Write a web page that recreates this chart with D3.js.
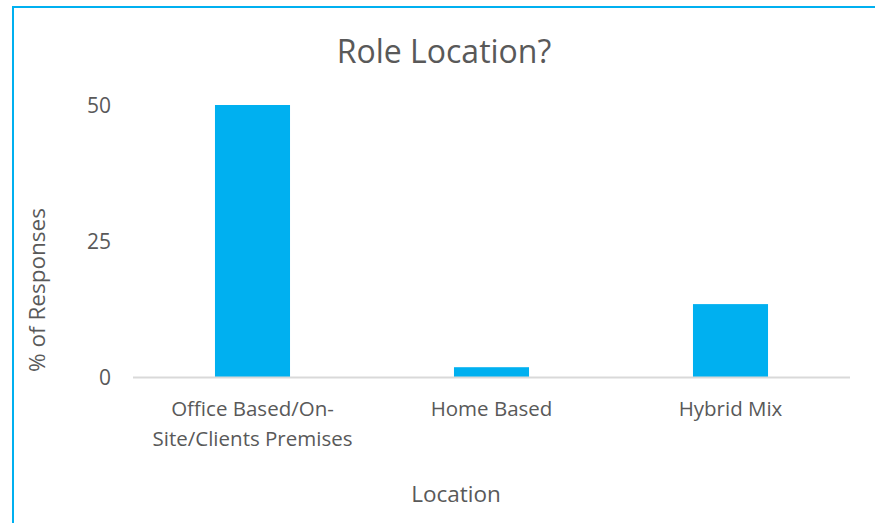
<!DOCTYPE html>
<html>
<head>
<meta charset="utf-8">
<script src="https://cdn.jsdelivr.net/npm/d3@7"></script>
<style>
  body { margin: 0; background: #fff; }
  text { font-family: "Open Sans", Lato, sans-serif; fill: #595959; }
</style>
</head>
<body>
<div id="chart"></div>
<script>
const categories = [['Office Based/On-', 'Site/Clients Premises'], ['Home Based'], ['Hybrid Mix']];
const values = [50, 1.8, 13.4];
const yTicks = [0, 25, 50];

const width = 875, height = 523;
const margin = { top: 105, right: 25, bottom: 146, left: 133 };

const svg = d3.select('#chart').append('svg')
  .attr('width', width)
  .attr('height', height);

// chart border (right/bottom edges fall outside the crop)
svg.append('rect')
  .attr('x', 13).attr('y', 7)
  .attr('width', 880).attr('height', 540)
  .attr('fill', 'none')
  .attr('stroke', '#00b0f0')
  .attr('stroke-width', 2);

const contentWidth = width - margin.left - margin.right;
const contentHeight = height - margin.top - margin.bottom;

const x = d3.scaleBand()
  .domain(d3.range(categories.length))
  .range([0, contentWidth])
  .paddingInner(0.686)
  .paddingOuter(0.343);

const y = d3.scaleLinear()
  .domain([0, 50])
  .range([contentHeight, 0]);

const g = svg.append('g')
  .attr('transform', 'translate(' + margin.left + ',' + margin.top + ')');

g.selectAll('.bar')
  .data(values)
  .enter().append('rect')
  .attr('class', 'bar')
  .attr('x', (d, i) => x(i))
  .attr('y', d => y(d))
  .attr('width', x.bandwidth())
  .attr('height', d => contentHeight - y(d))
  .attr('fill', '#00b0f0');

// baseline
g.append('line')
  .attr('x1', 0).attr('x2', contentWidth)
  .attr('y1', contentHeight + 0.5).attr('y2', contentHeight + 0.5)
  .attr('stroke', '#d9d9d9')
  .attr('stroke-width', 2);

// y tick labels
g.selectAll('.ytick')
  .data(yTicks)
  .enter().append('text')
  .attr('class', 'ytick')
  .attr('x', -22)
  .attr('y', d => y(d))
  .attr('dy', '0.36em')
  .attr('text-anchor', 'end')
  .style('font-size', '21px')
  .text(d => d);

// category labels
const cat = g.selectAll('.xlabel')
  .data(categories)
  .enter().append('text')
  .attr('class', 'xlabel')
  .attr('text-anchor', 'middle')
  .style('font-size', '20.5px')
  .attr('transform', (d, i) => 'translate(' + (x(i) + x.bandwidth() / 2) + ',' + (contentHeight + 39) + ')');

cat.selectAll('tspan')
  .data(d => d)
  .enter().append('tspan')
  .attr('x', 0)
  .attr('dy', (d, i) => i === 0 ? 0 : 30)
  .text(d => d);

// title
svg.append('text')
  .attr('x', 444)
  .attr('y', 63)
  .attr('text-anchor', 'middle')
  .style('font-size', '32px')
  .text('Role Location?');

// axis titles
svg.append('text')
  .attr('transform', 'translate(45,290) rotate(-90)')
  .attr('text-anchor', 'middle')
  .style('font-size', '22.5px')
  .text('% of Responses');

svg.append('text')
  .attr('x', 456)
  .attr('y', 502)
  .attr('text-anchor', 'middle')
  .style('font-size', '22.5px')
  .text('Location');
</script>
</body>
</html>
